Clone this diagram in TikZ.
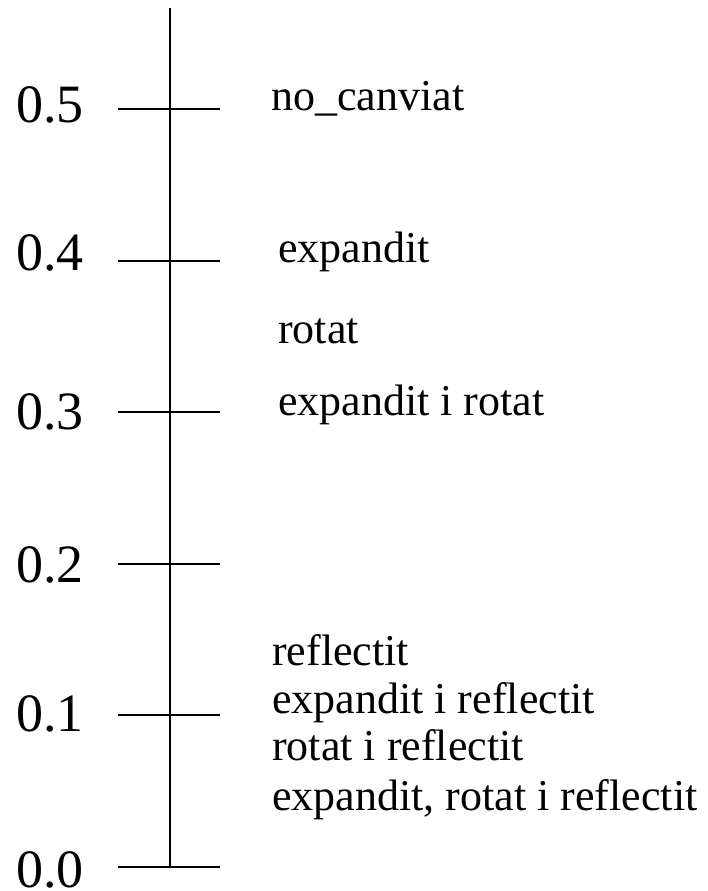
\documentclass[tikz,border=0pt]{standalone}
\usepackage{fontspec}
\setmainfont{Liberation Serif}
\begin{document}
\begin{tikzpicture}[x=1pt,y=-1pt,
  axisline/.style={line width=1.5pt,black},
  ticklabel/.style={anchor=base west,inner sep=0pt,font=\fontsize{54}{60}\selectfont},
  caselabel/.style={anchor=base west,inner sep=0pt,font=\fontsize{44}{50}\selectfont}]
  \useasboundingbox (0,0) rectangle (707,891);
  % vertical axis
  \coordinate (top) at (170,8);
  \coordinate (bot) at (170,867);
  \draw[axisline] (top) -- (bot);
  % ticks
  \foreach \n/\y in {5/109,4/261,3/412,2/564,1/715,0/867}{
    \coordinate (l\n) at (118,\y);
    \coordinate (r\n) at (220,\y);
    \draw[axisline] (l\n) -- (r\n);
  }
  % tick values
  \node[ticklabel] (v5) at (16,122) {0.5};
  \node[ticklabel] (v4) at (16,270) {0.4};
  \node[ticklabel] (v3) at (16,429) {0.3};
  \node[ticklabel] (v2) at (16,582) {0.2};
  \node[ticklabel] (v1) at (16,731) {0.1};
  \node[ticklabel] (v0) at (16,887) {0.0};
  % case labels
  \node[caselabel] (c1) at (271,110) {no\_canviat};
  \node[caselabel] (c2) at (278,262) {expandit};
  \node[caselabel] (c3) at (278,343) {rotat};
  \node[caselabel] (c4) at (278,415) {expandit i rotat};
  \node[caselabel] (c5) at (272,665) {reflectit};
  \node[caselabel] (c6) at (272,713) {expandit i reflectit};
  \node[caselabel] (c7) at (272,760) {rotat i reflectit};
  \node[caselabel] (c8) at (272,810) {expandit, rotat i reflectit};
\end{tikzpicture}
\end{document}
